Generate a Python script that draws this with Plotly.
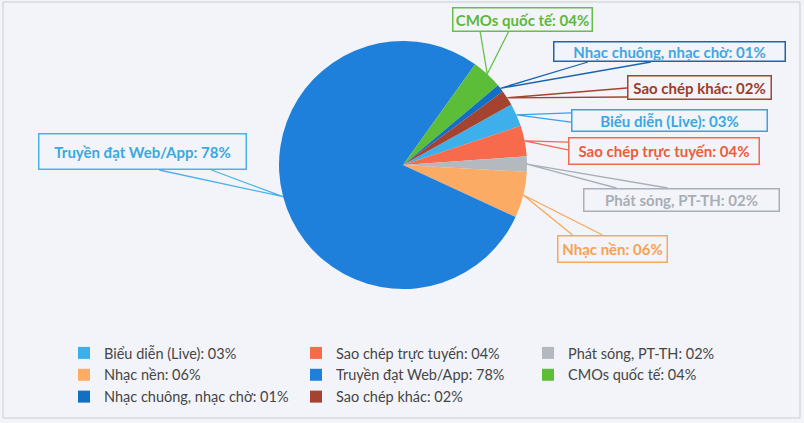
import math
import plotly.graph_objects as go

# ---- data ----
categories = ["Biểu diễn (Live)", "Sao chép trực tuyến", "Phát sóng, PT-TH", "Nhạc nền",
              "Truyền đạt Web/App", "CMOs quốc tế", "Nhạc chuông, nhạc chờ", "Sao chép khác"]
values = [3, 4, 2, 6, 78, 4, 1, 2]

# ---- styles ----
slice_colors = ["#3db0ec", "#f86a4c", "#b4b9bf", "#fbab63", "#1f80dc", "#5cbd38", "#126fc4", "#a4432f"]
text_colors = ["#38a8e4", "#f05a3e", "#a8aeb5", "#f7a252", "#3aa8e2", "#5cb83c", "#44a6df", "#9e3c2a"]
border_colors = ["#3aa2e2", "#ef6a50", "#a9b0b8", "#f8a858", "#4ab2ea", "#64c046", "#1a64b0", "#a5432f"]
# label boxes in pixels: left, top, right, bottom
boxes = [(571, 109, 768, 132), (568, 137, 760, 165), (583, 188, 780, 212), (557, 235, 668, 263),
         (38, 133, 247, 170), (452, 7, 593, 32), (553, 41, 786, 62), (627, 75, 772, 100)]
# callout wedge: side of box and two fractions along that side
wedges = [("l", 0.17, 0.57), ("l", 0.18, 0.46), ("t", 0.17, 0.43), ("t", 0.14, 0.41),
          ("b", 0.58, 0.83), ("b", 0.20, 0.40), ("b", 0.15, 0.42), ("l", 0.52, 0.88)]

W, H = 804, 423
cx, cy, R = 403, 165, 124
rotation = 60.8
bg = "#f2f4f9"

labels = [f"{c}: {v:02d}%" for c, v in zip(categories, values)]


def px(x, y):
    return x / W, 1 - y / H


fig = go.Figure(go.Pie(
    labels=labels, values=values, sort=False, direction="clockwise", rotation=rotation,
    marker=dict(colors=slice_colors, line=dict(width=0)),
    textinfo="none", hoverinfo="label",
    domain=dict(x=[(cx - R) / W, (cx + R) / W], y=[1 - (cy + R) / H, 1 - (cy - R) / H]),
))

total = sum(values)
cum = 0.0
for i, v in enumerate(values):
    mid = rotation + (cum + v / 2) / total * 360.0  # degrees clockwise from 12 o'clock
    cum += v
    a = math.radians(mid)
    tx = cx + R * math.sin(a)
    ty = cy - R * math.cos(a)
    l, t, r, b = boxes[i]
    side, f1, f2 = wedges[i]
    if side == "l":
        p1, p2 = (l, t + f1 * (b - t)), (l, t + f2 * (b - t))
    elif side == "t":
        p1, p2 = (l + f1 * (r - l), t), (l + f2 * (r - l), t)
    else:
        p1, p2 = (l + f1 * (r - l), b), (l + f2 * (r - l), b)
    path = "M {} {} L {} {} L {} {}".format(*px(*p1), *px(tx, ty), *px(*p2))
    fig.add_shape(type="path", xref="paper", yref="paper", path=path,
                  line=dict(color=border_colors[i], width=1.3))
    fig.add_annotation(
        x=(l + r) / 2 / W, y=1 - (t + b) / 2 / H, xref="paper", yref="paper",
        xanchor="center", yanchor="middle",
        text=f"<b>{labels[i]}</b>", showarrow=False,
        width=r - l - 3, height=b - t - 3, align="center", valign="middle",
        font=dict(family="Lato, Open Sans, sans-serif", size=15, color=text_colors[i]),
        bordercolor=border_colors[i], borderwidth=1.5, borderpad=0, bgcolor=bg,
    )

fig.add_shape(type="rect", xref="paper", yref="paper", x0=3 / W, x1=800 / W, y0=1 - 418 / H, y1=1 - 2 / H,
              line=dict(color="#c9ccd3", width=1))

fig.update_layout(
    width=W, height=H, margin=dict(l=0, r=0, t=0, b=0),
    paper_bgcolor=bg, plot_bgcolor=bg,
    showlegend=True,
    legend=dict(orientation="h", x=64 / W, y=1 - 337 / H, xanchor="left", yanchor="top",
                entrywidth=187, entrywidthmode="pixels", itemwidth=30, traceorder="normal",
                font=dict(family="Lato, sans-serif", size=14.5, color="#454545"),
                bgcolor="rgba(0,0,0,0)"),
)

fig.write_html("out.html")
